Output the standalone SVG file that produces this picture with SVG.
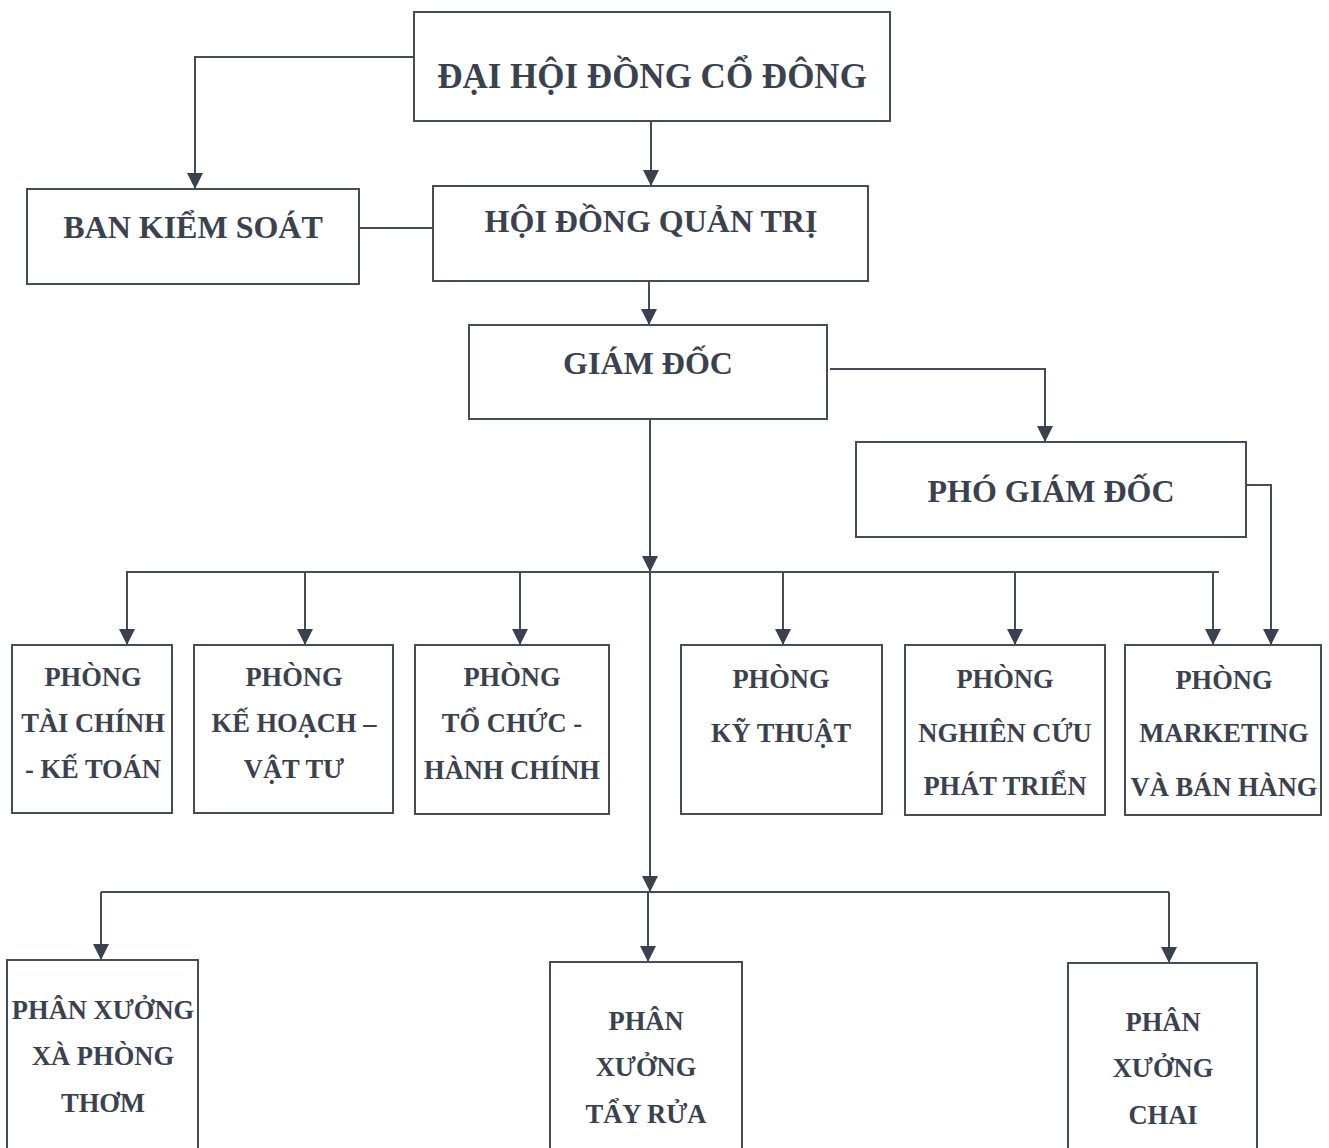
<svg xmlns="http://www.w3.org/2000/svg" width="1329" height="1148" viewBox="0 0 1329 1148">
<style>
.box{fill:#fff;stroke:#454d58;stroke-width:2}
.t{font-family:"Liberation Serif","Times New Roman",serif;font-weight:bold;fill:#3a4250;text-anchor:middle}
.big{font-size:35px}
.mid{font-size:32px}
.sm{font-size:26.5px}
.ln{fill:none;stroke:#454d58;stroke-width:2}
.ar{marker-end:url(#arr)}
</style>
<defs>
<marker id="arr" markerUnits="userSpaceOnUse" markerWidth="18" markerHeight="18" viewBox="0 0 18 18" refX="9" refY="17" orient="0">
<path d="M1,1 L17,1 L9,17 Z" fill="#3a4250"/>
</marker>
</defs>
<rect width="1329" height="1148" fill="#fff"/>
<g id="connectors">
<path class="ln ar" d="M414,57 H195 V189"/>
<path class="ln ar" d="M651,121 V186"/>
<path class="ln" d="M359,228 H433"/>
<path class="ln ar" d="M649,281 V325"/>
<path class="ln ar" d="M830,369 H1045 V442"/>
<path class="ln ar" d="M650,419 V572"/>
<path class="ln ar" d="M650,572 V892"/>
<path class="ln" d="M126,572 H1219"/>
<path class="ln ar" d="M127,572 V645"/>
<path class="ln ar" d="M305,572 V645"/>
<path class="ln ar" d="M520,572 V645"/>
<path class="ln ar" d="M783,572 V645"/>
<path class="ln ar" d="M1015,572 V645"/>
<path class="ln ar" d="M1213,572 V645"/>
<path class="ln ar" d="M1243,485 H1271 V645"/>
<path class="ln" d="M101,892 H1169"/>
<path class="ln ar" d="M101,892 V960"/>
<path class="ln ar" d="M648,892 V962"/>
<path class="ln ar" d="M1169,892 V963"/>
</g>
<g id="n-dhdcd"><rect class="box" x="414" y="12" width="476" height="109"/><text class="t big" x="652" y="88">ĐẠI HỘI ĐỒNG CỔ ĐÔNG</text></g>
<g id="n-bks"><rect class="box" x="27" y="189" width="332" height="95"/><text class="t mid" x="193" y="238">BAN KIỂM SOÁT</text></g>
<g id="n-hdqt"><rect class="box" x="433" y="186" width="435" height="95"/><text class="t mid" x="651" y="232">HỘI ĐỒNG QUẢN TRỊ</text></g>
<g id="n-gd"><rect class="box" x="469" y="325" width="358" height="94"/><text class="t mid" x="648" y="374">GIÁM ĐỐC</text></g>
<g id="n-pgd"><rect class="box" x="856" y="442" width="390" height="95"/><text class="t mid" x="1051" y="502">PHÓ GIÁM ĐỐC</text></g>
<g id="n-tc"><rect class="box" x="12" y="645" width="160" height="168"/>
<text class="t sm" x="93" y="686">PHÒNG</text><text class="t sm" x="93" y="732">TÀI CHÍNH</text><text class="t sm" x="93" y="778">- KẾ TOÁN</text></g>
<g id="n-kh"><rect class="box" x="194" y="645" width="199" height="168"/>
<text class="t sm" x="294" y="686">PHÒNG</text><text class="t sm" x="294" y="732">KẾ HOẠCH –</text><text class="t sm" x="294" y="778">VẬT TƯ</text></g>
<g id="n-tchc"><rect class="box" x="415" y="645" width="194" height="169"/>
<text class="t sm" x="512" y="686">PHÒNG</text><text class="t sm" x="512" y="732">TỔ CHỨC -</text><text class="t sm" x="512" y="779">HÀNH CHÍNH</text></g>
<g id="n-kt"><rect class="box" x="681" y="645" width="201" height="169"/>
<text class="t sm" x="781" y="688">PHÒNG</text><text class="t sm" x="781" y="742">KỸ THUẬT</text></g>
<g id="n-nc"><rect class="box" x="905" y="645" width="200" height="170"/>
<text class="t sm" x="1005" y="688">PHÒNG</text><text class="t sm" x="1005" y="742">NGHIÊN CỨU</text><text class="t sm" x="1005" y="795">PHÁT TRIỂN</text></g>
<g id="n-mk"><rect class="box" x="1125" y="645" width="196" height="170"/>
<text class="t sm" x="1224" y="689">PHÒNG</text><text class="t sm" x="1224" y="742">MARKETING</text><text class="t sm" x="1224" y="796">VÀ BÁN HÀNG</text></g>
<g id="n-xpt"><rect class="box" x="7" y="960" width="191" height="200"/>
<text class="t sm" x="103" y="1019">PHÂN XƯỞNG</text><text class="t sm" x="103" y="1065">XÀ PHÒNG</text><text class="t sm" x="103" y="1112">THƠM</text></g>
<g id="n-tr"><rect class="box" x="550" y="962" width="192" height="200"/>
<text class="t sm" x="646" y="1030">PHÂN</text><text class="t sm" x="646" y="1076">XƯỞNG</text><text class="t sm" x="646" y="1123">TẨY RỬA</text></g>
<g id="n-chai"><rect class="box" x="1068" y="963" width="189" height="200"/>
<text class="t sm" x="1163" y="1031">PHÂN</text><text class="t sm" x="1163" y="1077">XƯỞNG</text><text class="t sm" x="1163" y="1124">CHAI</text></g>
</svg>
